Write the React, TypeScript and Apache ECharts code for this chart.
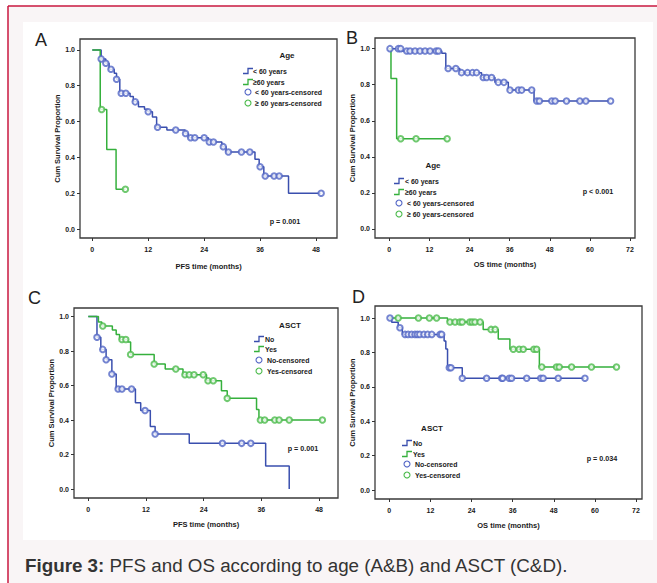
import React, { useEffect, useRef } from "react";
import * as echarts from "echarts";

// ---------------- DATA ----------------
// Panel A: PFS by age
const A_LT60_TIMES = [0, 1.9, 2.9, 3.6, 4.7, 5.2, 5.9, 8.1, 8.8, 9.9, 11.2, 11.9, 12.9, 13.8, 16.0, 19.9, 20.6, 24.9, 27.8, 28.7, 34.9, 35.8, 36.8, 42.1, 49.1];
const A_LT60_SURV = [1, 0.95, 0.926, 0.892, 0.87, 0.836, 0.758, 0.74, 0.71, 0.683, 0.669, 0.655, 0.625, 0.568, 0.553, 0.534, 0.51, 0.486, 0.46, 0.43, 0.39, 0.348, 0.296, 0.2, 0.2];
const A_LT60_CENSOR = [1.9, 2.9, 4.0, 5.2, 6.2, 7.2, 9.2, 12.0, 14.0, 17.9, 20.0, 21.1, 22.0, 24.0, 25.1, 26.0, 28.1, 29.2, 32.0, 33.8, 36.0, 37.1, 39.0, 40.1, 49.1];
const A_GE60_TIMES = [0, 1.7, 3.1, 5.1, 7.1];
const A_GE60_SURV = [1, 0.667, 0.444, 0.222, 0.222];
const A_GE60_CENSOR = [2.0, 7.1];

// Panel B: OS by age
const B_LT60_TIMES = [0, 3.7, 15.7, 16.9, 21.1, 27.6, 31.6, 35.6, 43.3, 66.2];
const B_LT60_SURV = [1, 0.987, 0.975, 0.89, 0.867, 0.84, 0.813, 0.77, 0.71, 0.71];
const B_LT60_CENSOR = [0.2, 2.7, 3.4, 5.2, 6.2, 7.7, 9.2, 10.7, 12.2, 14.0, 14.7, 17.6, 19.9, 21.6, 23.4, 24.9, 26.1, 28.1, 29.1, 30.6, 32.6, 34.3, 36.1, 38.6, 39.6, 42.6, 44.1, 44.9, 48.6, 49.6, 53.0, 57.0, 58.8, 66.2];
const B_GE60_TIMES = [0, 0.5, 2.2, 17.3];
const B_GE60_SURV = [1, 0.834, 0.5, 0.5];
const B_GE60_CENSOR = [3.4, 8.0, 17.3];

// Panel C: PFS by ASCT
const C_NO_TIMES = [0, 1.8, 2.6, 3.7, 4.9, 5.8, 9.8, 10.9, 12.9, 13.9, 21.0, 36.9, 41.8];
const C_NO_SURV = [1, 0.88, 0.81, 0.75, 0.667, 0.58, 0.5, 0.455, 0.362, 0.319, 0.265, 0.133, 0];
const C_NO_CENSOR = [1.8, 3.0, 3.7, 4.9, 6.2, 7.0, 9.0, 11.8, 13.9, 27.9, 31.9, 33.8];
const C_YES_TIMES = [0, 2.1, 2.8, 5.0, 5.8, 6.5, 8.2, 8.8, 13.7, 16.0, 19.7, 24.6, 27.7, 28.9, 35.0, 35.5, 48.7];
const C_YES_SURV = [1, 0.969, 0.946, 0.923, 0.896, 0.867, 0.853, 0.78, 0.725, 0.696, 0.663, 0.628, 0.57, 0.526, 0.462, 0.4, 0.4];
const C_YES_CENSOR = [3.0, 7.0, 7.8, 8.8, 13.7, 18.2, 20.1, 21.0, 22.0, 23.9, 24.9, 26.0, 28.9, 35.8, 36.7, 38.8, 39.7, 41.8, 48.7];

// Panel D: OS by ASCT
const D_NO_TIMES = [0, 0.7, 2.6, 3.8, 16.0, 16.5, 17.0, 21.3, 57.1];
const D_NO_SURV = [1, 0.975, 0.944, 0.905, 0.866, 0.82, 0.711, 0.65, 0.65];
const D_NO_CENSOR = [0.2, 3.1, 4.6, 5.5, 6.5, 7.5, 8.2, 8.9, 10.1, 11.2, 12.4, 14.8, 15.3, 17.5, 18.0, 21.3, 28.4, 32.8, 33.1, 35.0, 35.7, 40.1, 44.2, 44.9, 49.3, 57.1];
const D_YES_TIMES = [0, 17.0, 27.4, 31.8, 35.2, 43.8, 66.3];
const D_YES_SURV = [1, 0.977, 0.934, 0.878, 0.819, 0.715, 0.715];
const D_YES_CENSOR = [2.6, 8.5, 11.7, 13.8, 17.7, 19.2, 20.6, 21.3, 23.5, 24.2, 25.0, 26.5, 29.7, 30.9, 36.2, 37.9, 39.1, 42.2, 43.0, 44.5, 48.8, 49.6, 53.2, 59.0, 66.3];

const PFS_TICKS = [0, 12, 24, 36, 48];
const OS_TICKS = [0, 12, 24, 36, 48, 60, 72];
const Y_TICKS = [0, 0.2, 0.4, 0.6, 0.8, 1.0];

const AGE_LABELS = ["< 60 years", "≥60 years", "< 60 years-censored", "≥ 60 years-censored"];
const ASCT_LABELS = ["No", "Yes", "No-censored", "Yes-censored"];
const P_VALUES = ["p = 0.001", "p < 0.001", "p = 0.001", "p = 0.034"];
const PANEL_LETTERS = ["A", "B", "C", "D"];
const CAPTION_BOLD = "Figure 3:";
const CAPTION_TEXT = " PFS and OS according to age (A&B) and ASCT (C&D).";

// ---------------- helpers ----------------
const BLUE = "#3a4fae";
const BLUE_C = "#5366c6";
const GREEN = "#35b03c";
const GREEN_C = "#4cbb4c";
const FONT = "'Liberation Sans Narrow', 'Liberation Sans', Arial, sans-serif";
const SANS = "'Liberation Sans', Arial, sans-serif";

function stepData(times: number[], surv: number[]) {
  return times.map((t, i) => [t, surv[i]]);
}
function survAt(times: number[], surv: number[], t: number) {
  let v = surv[0];
  for (let i = 0; i < times.length; i++) if (times[i] <= t + 1e-9) v = surv[i];
  return v;
}
function censorData(times: number[], surv: number[], cens: number[]) {
  return cens.map((c) => [c, survAt(times, surv, c)]);
}

type Panel = {
  grid: { left: number; top: number; width: number; height: number };
  xmin: number; xmax: number; ymin: number; ymax: number;
  xticks: number[]; xname: string; xgap: number; ygap: number;
  curves: { name: string; times: number[]; surv: number[]; cens: number[]; color: string; ccolor: string }[];
};

const panels: Panel[] = [
  {
    grid: { left: 80, top: 39, width: 257, height: 199 },
    xmin: -2.64, xmax: 52.5, ymin: -0.05, ymax: 1.061, xticks: PFS_TICKS, xname: "PFS time (months)", xgap: 24, ygap: 17,
    curves: [
      { name: AGE_LABELS[0] + " (A)", times: A_LT60_TIMES, surv: A_LT60_SURV, cens: A_LT60_CENSOR, color: BLUE, ccolor: BLUE_C },
      { name: AGE_LABELS[1] + " (A)", times: A_GE60_TIMES, surv: A_GE60_SURV, cens: A_GE60_CENSOR, color: GREEN, ccolor: GREEN_C },
    ],
  },
  {
    grid: { left: 375, top: 38, width: 260, height: 200 },
    xmin: -4.28, xmax: 73.5, ymin: -0.05, ymax: 1.059, xticks: OS_TICKS, xname: "OS time (months)", xgap: 22, ygap: 17,
    curves: [
      { name: AGE_LABELS[0] + " (B)", times: B_LT60_TIMES, surv: B_LT60_SURV, cens: B_LT60_CENSOR, color: BLUE, ccolor: BLUE_C },
      { name: AGE_LABELS[1] + " (B)", times: B_GE60_TIMES, surv: B_GE60_SURV, cens: B_GE60_CENSOR, color: GREEN, ccolor: GREEN_C },
    ],
  },
  {
    grid: { left: 74, top: 308, width: 264, height: 190 },
    xmin: -2.98, xmax: 51.95, ymin: -0.052, ymax: 1.05, xticks: PFS_TICKS, xname: "PFS time (months)", xgap: 22, ygap: 16,
    curves: [
      { name: ASCT_LABELS[0] + " (C)", times: C_NO_TIMES, surv: C_NO_SURV, cens: C_NO_CENSOR, color: BLUE, ccolor: BLUE_C },
      { name: ASCT_LABELS[1] + " (C)", times: C_YES_TIMES, surv: C_YES_SURV, cens: C_YES_CENSOR, color: GREEN, ccolor: GREEN_C },
    ],
  },
  {
    grid: { left: 375, top: 306, width: 267, height: 193 },
    xmin: -4.17, xmax: 73.75, ymin: -0.052, ymax: 1.07, xticks: OS_TICKS, xname: "OS time (months)", xgap: 22, ygap: 17,
    curves: [
      { name: ASCT_LABELS[0] + " (D)", times: D_NO_TIMES, surv: D_NO_SURV, cens: D_NO_CENSOR, color: BLUE, ccolor: BLUE_C },
      { name: ASCT_LABELS[1] + " (D)", times: D_YES_TIMES, surv: D_YES_SURV, cens: D_YES_CENSOR, color: GREEN, ccolor: GREEN_C },
    ],
  },
];

// legend layout per panel: title position, icon x, text x, row ys
const legends = [
  { title: "Age", tx: 287, ty: 55, ix: 243, txx: 253, rows: [71, 82, 92, 103], labels: AGE_LABELS },
  { title: "Age", tx: 433, ty: 165, ix: 394, txx: 405, rows: [181, 192, 203, 214], labels: AGE_LABELS },
  { title: "ASCT", tx: 290, ty: 325, ix: 254, txx: 265, rows: [339, 349, 360, 371], labels: ASCT_LABELS },
  { title: "ASCT", tx: 432, ty: 428, ix: 402, txx: 413, rows: [443, 454, 464, 475], labels: ASCT_LABELS },
];
const pPos = [[285, 221], [598, 191], [303, 448], [602, 458]];
const letterPos = [[35, 40], [346, 38], [28, 298], [352, 297]];

function txt(text: string, x: number, y: number, opts: any = {}) {
  return {
    type: "text",
    x,
    y,
    scaleX: opts.scaleX ?? 1,
    style: {
      text,
      fill: opts.fill ?? "#1a1a1a",
      fontSize: opts.fontSize ?? 8,
      fontWeight: opts.fontWeight ?? "bold",
      fontFamily: opts.fontFamily ?? FONT,
      align: opts.align ?? "left",
      verticalAlign: "middle",
      textAlign: opts.align ?? "left",
      textVerticalAlign: "middle",
    },
    silent: true,
  };
}

function buildOption() {
  const grids: any[] = [];
  const xAxes: any[] = [];
  const yAxes: any[] = [];
  const series: any[] = [];
  const graphics: any[] = [];

  // page background
  graphics.push({ type: "rect", shape: { x: 8, y: 6, width: 649, height: 577 }, style: { fill: "#f9f5f6" }, silent: true, z: -10 });
  graphics.push({ type: "rect", shape: { x: 23, y: 22, width: 630, height: 518 }, style: { fill: "#ffffff" }, silent: true, z: -9 });
  graphics.push({ type: "line", shape: { x1: 8, y1: 6, x2: 657, y2: 6 }, style: { stroke: "#c8173f", lineWidth: 1.5 }, silent: true });
  graphics.push({ type: "line", shape: { x1: 8, y1: 6, x2: 8, y2: 583 }, style: { stroke: "#c8173f", lineWidth: 1.5 }, silent: true });

  panels.forEach((p, i) => {
    grids.push({ ...p.grid, show: true, borderColor: "#3a3a3a", borderWidth: 1.3, backgroundColor: "transparent", containLabel: false });
    xAxes.push({
      gridIndex: i, type: "value", min: p.xmin, max: p.xmax,
      name: p.xname, nameLocation: "middle", nameGap: p.xgap,
      nameTextStyle: { fontSize: 7.5, fontWeight: "bold", fontFamily: FONT, color: "#1a1a1a" },
      axisLine: { show: false, onZero: false },
      axisTick: { show: true, length: 3, customValues: p.xticks, lineStyle: { color: "#333", width: 1 } },
      axisLabel: { customValues: p.xticks, margin: 8, fontSize: 7, fontWeight: "bold", fontFamily: FONT, color: "#1a1a1a" },
      splitLine: { show: false },
    });
    yAxes.push({
      gridIndex: i, type: "value", min: p.ymin, max: p.ymax,
      name: "Cum Survival Proportion", nameLocation: "middle", nameGap: p.ygap,
      nameTextStyle: { fontSize: 7.5, fontWeight: "bold", fontFamily: FONT, color: "#1a1a1a" },
      axisLine: { show: false, onZero: false },
      axisTick: { show: true, length: 3, customValues: Y_TICKS, lineStyle: { color: "#333", width: 1 } },
      axisLabel: { customValues: Y_TICKS, margin: 5, fontSize: 7, fontWeight: "bold", fontFamily: FONT, color: "#1a1a1a", formatter: (v: number) => v.toFixed(1) },
      splitLine: { show: false },
    });
    p.curves.forEach((c) => {
      series.push({
        type: "line", name: c.name, xAxisIndex: i, yAxisIndex: i, step: "end",
        data: stepData(c.times, c.surv), showSymbol: false, symbol: "none",
        lineStyle: { color: c.color, width: 1.5 }, itemStyle: { color: c.color }, z: 2,
      });
      series.push({
        type: "scatter", name: c.name + "-censored", xAxisIndex: i, yAxisIndex: i,
        data: censorData(c.times, c.surv, c.cens), symbol: "emptyCircle", symbolSize: 5.5,
        itemStyle: { color: c.ccolor, borderColor: c.ccolor, borderWidth: 1.1 }, z: 3,
      });
    });

    // legend
    const L = legends[i];
    graphics.push(txt(L.title, L.tx, L.ty, { align: "center", fontSize: 8 }));
    const colors = [BLUE, GREEN];
    [0, 1].forEach((k) => {
      const y = L.rows[k];
      graphics.push({
        type: "polyline", silent: true,
        shape: { points: [[L.ix, y + 2.5], [L.ix + 5, y + 2.5], [L.ix + 5, y - 2.5], [L.ix + 10, y - 2.5]] },
        style: { stroke: colors[k], lineWidth: 1.3, fill: "none" },
      });
      graphics.push(txt(L.labels[k], L.txx, y, { scaleX: 0.87 }));
    });
    [2, 3].forEach((k) => {
      const y = L.rows[k];
      graphics.push({
        type: "circle", silent: true,
        shape: { cx: L.ix + 5, cy: y, r: 3 },
        style: { stroke: k === 2 ? BLUE_C : GREEN_C, lineWidth: 1.1, fill: "#fff" },
      });
      graphics.push(txt(L.labels[k], L.txx + 2, y, { scaleX: 0.87 }));
    });
    graphics.push(txt(P_VALUES[i], pPos[i][0], pPos[i][1], { align: "center", fontSize: 8, scaleX: 0.9 }));
    graphics.push(txt(PANEL_LETTERS[i], letterPos[i][0], letterPos[i][1], { fontSize: 18, fontWeight: "normal", fontFamily: SANS, fill: "#222" }));
  });

  graphics.push({
    type: "text", x: 25, y: 565, silent: true,
    style: {
      text: "{b|" + CAPTION_BOLD + "}" + CAPTION_TEXT,
      fill: "#333", fontSize: 18.8, fontFamily: SANS,
      verticalAlign: "middle", textVerticalAlign: "middle",
      rich: { b: { fontWeight: "bold", fontSize: 18.8, fontFamily: SANS, fill: "#333" } },
    },
  });

  return {
    animation: false,
    backgroundColor: "#ffffff",
    grid: grids,
    xAxis: xAxes,
    yAxis: yAxes,
    series,
    graphic: { elements: graphics },
  };
}

export default function App() {
  const ref = useRef<HTMLDivElement>(null);
  useEffect(() => {
    if (!ref.current) return;
    const chart = echarts.init(ref.current, undefined, { renderer: "svg" });
    chart.setOption(buildOption() as any);
    return () => chart.dispose();
  }, []);
  return <div ref={ref} style={{ position: "absolute", left: 0, top: 0, width: 657, height: 583 }} />;
}
